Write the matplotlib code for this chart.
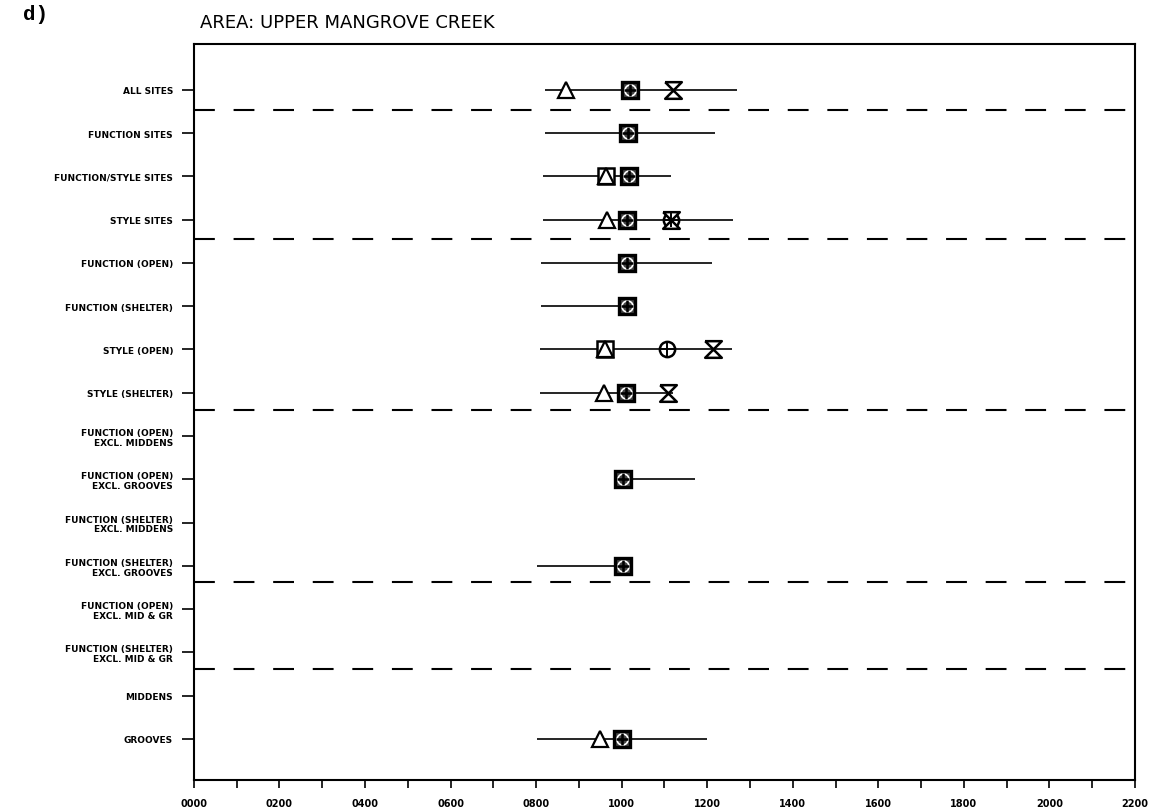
import matplotlib
matplotlib.use("Agg")
import matplotlib.pyplot as plt
import numpy as np

nan = np.nan

row_labels = [
    "ALL SITES",
    "FUNCTION SITES",
    "FUNCTION/STYLE SITES",
    "STYLE SITES",
    "FUNCTION (OPEN)",
    "FUNCTION (SHELTER)",
    "STYLE (OPEN)",
    "STYLE (SHELTER)",
    "FUNCTION (OPEN)\nEXCL. MIDDENS",
    "FUNCTION (OPEN)\nEXCL. GROOVES",
    "FUNCTION (SHELTER)\nEXCL. MIDDENS",
    "FUNCTION (SHELTER)\nEXCL. GROOVES",
    "FUNCTION (OPEN)\nEXCL. MID & GR",
    "FUNCTION (SHELTER)\nEXCL. MID & GR",
    "MIDDENS",
    "GROOVES",
]

range_lo = [821, 821, 816, 816, 811, 811, 809, 809, nan, 989, nan, 802, nan, nan, nan, 802]
range_hi = [1270, 1218, 1115, 1260, 1211, 1015, 1258, 1120, nan, 1171, nan, 1015, nan, nan, nan, 1199]
tri_vals = [870, nan, 963, 966, nan, nan, 961, 959, nan, nan, nan, nan, nan, nan, nan, 949]
box_vals = [nan, nan, 963, nan, nan, nan, 961, nan, nan, nan, nan, nan, nan, nan, nan, nan]
dense_vals = [1019, 1015, 1017, 1012, 1012, 1012, nan, 1010, nan, 1003, nan, 1003, nan, nan, nan, 1001]
circ_vals = [nan, nan, nan, 1115, nan, nan, 1106, nan, nan, nan, nan, nan, nan, nan, nan, nan]
hg_vals = [1120, nan, nan, 1115, nan, nan, 1213, 1108, nan, nan, nan, nan, nan, nan, nan, nan]

group_breaks = [0.47, 3.44, 7.40, 11.38, 13.39]
x_ticks = list(range(0, 2201, 200))

hourglass = [(-1, 1), (1, 1), (-1, -1), (1, -1), (-1, 1)]

fig = plt.figure(figsize=(11.6, 8.12), dpi=100)
ax = fig.add_axes([0.1672, 0.0382, 0.8112, 0.9064])

rows = np.arange(len(row_labels))
lw = 1.2

ax.hlines(rows, range_lo, range_hi, color="black", linewidth=lw, zorder=2)

for y in group_breaks:
    ax.axhline(y, color="black", linewidth=1.5, dashes=(10, 9), zorder=1)

ax.plot(tri_vals, rows, linestyle="none", marker="^", ms=11, mfc="white", mec="black", mew=1.6, zorder=4)
ax.plot(box_vals, rows, linestyle="none", marker="s", ms=12, mfc="white", mec="black", mew=1.8, zorder=3)
# dense symbol: square with circle and cross inside
ax.plot(dense_vals, rows, linestyle="none", marker="s", ms=12, mfc="#444444", mec="black", mew=2.4, zorder=3)
ax.plot(dense_vals, rows, linestyle="none", marker="o", ms=8, mfc="none", mec="white", mew=1.2, zorder=5)
ax.plot(dense_vals, rows, linestyle="none", marker="+", ms=8, mec="black", mew=1.8, zorder=6)
ax.plot(circ_vals, rows, linestyle="none", marker="o", ms=11, mfc="white", mec="black", mew=1.8, zorder=4)
ax.plot(circ_vals, rows, linestyle="none", marker="+", ms=10, mec="black", mew=1.4, zorder=5)
ax.plot(hg_vals, rows, linestyle="none", marker=hourglass, ms=12, mfc="white", mec="black", mew=1.8, zorder=4)

ax.set_xlim(0, 2200)
ax.set_ylim(15.95, -1.06)
ax.set_xticks(x_ticks)
ax.set_xticklabels([f"{v:04d}" for v in x_ticks], fontsize=7, fontweight="bold")
ax.set_xticks(range(100, 2200, 200), minor=True)
ax.tick_params(axis="x", which="both", direction="out", length=6, width=1.2, pad=7)
ax.set_yticks(rows)
ax.set_yticklabels(row_labels, fontsize=6.5, fontweight="bold", linespacing=1.1)
ax.tick_params(axis="y", direction="out", length=9, width=1.2, pad=6)
for spine in ax.spines.values():
    spine.set_linewidth(1.5)

fig.text(0.172, 0.972, "AREA: UPPER MANGROVE CREEK", fontsize=13, family="DejaVu Sans",
         va="center", ha="left")
fig.text(0.020, 0.982, "d)", fontsize=15, family="Liberation Mono", fontweight="bold",
         va="center", ha="left")

fig.savefig("out.png", dpi=100)
